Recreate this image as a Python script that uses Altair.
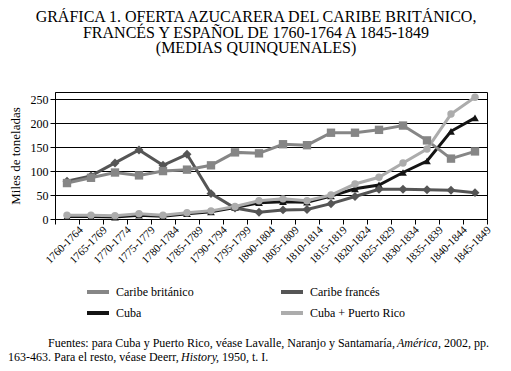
import altair as alt
import pandas as pd

periods = ["1760-1764", "1765-1769", "1770-1774", "1775-1779", "1780-1784", "1785-1789",
           "1790-1794", "1795-1799", "1800-1804", "1805-1809", "1810-1814", "1815-1819",
           "1820-1824", "1825-1829", "1830-1834", "1835-1839", "1840-1844", "1845-1849"]
britanico = [75, 86, 97, 91, 100, 103, 112, 139, 137, 156, 154, 180, 180, 186, 195, 164, 126, 141]
frances = [79, 90, 117, 144, 112, 135, 53, 23, 14, 19, 20, 32, 47, 62, 62, 61, 60, 55]
cuba = [5, 5, 4, 8, 6, 11, 15, 24, 34, 36, 35, 48, 63, 71, 97, 121, 183, 211]
cuba_pr = [8, 8, 7, 11, 8, 13, 17, 26, 38, 42, 38, 50, 73, 87, 117, 146, 219, 254]

series_names = ["Caribe británico", "Caribe francés", "Cuba", "Cuba + Puerto Rico"]
series_colors = ["#868686", "#555555", "#141414", "#acacac"]
series_shapes = ["square", "diamond", "triangle-up", "circle"]
series_sizes = [70, 80, 60, 55]

title_lines = ["GRÁFICA 1. OFERTA AZUCARERA DEL CARIBE BRITÁNICO,",
               "FRANCÉS Y ESPAÑOL DE 1760-1764 A 1845-1849",
               "(MEDIAS QUINQUENALES)"]
y_title = "Miles de toneladas"
y_ticks = [0, 50, 100, 150, 200, 250]

# draw order: Cuba, francés, británico, Cuba + PR
order = [("Cuba", cuba), ("Caribe francés", frances), ("Caribe británico", britanico),
         ("Cuba + Puerto Rico", cuba_pr)]
rows = []
for name, vals in order:
    for p, v in zip(periods, vals):
        rows.append({"periodo": p, "serie": name, "valor": v})
df = pd.DataFrame(rows)

FONT = "Liberation Serif"

x_enc = alt.X("periodo:N", sort=periods, bandPosition=0.5,
              scale=alt.Scale(type="band", paddingInner=0, paddingOuter=0),
              axis=alt.Axis(title=None, labelAngle=-45, labelAlign="right", labelBaseline="middle",
                            labelOffset=14, labelPadding=4, tickBand="extent", tickSize=5,
                            labelFont=FONT, labelFontSize=11, labelColor="black",
                            tickColor="black", domainColor="black", grid=False))
y_enc = alt.Y("valor:Q", scale=alt.Scale(domain=[0, 265], nice=False),
              axis=alt.Axis(values=y_ticks, title=y_title, titleFont=FONT, titleFontSize=13,
                            titleFontWeight="normal", titleColor="black", titlePadding=8,
                            labelFont=FONT, labelFontSize=12, labelColor="black", labelPadding=2,
                            tickSize=5, tickColor="black", domainColor="black",
                            grid=True, gridColor="black", gridOpacity=1, gridWidth=1))
color_enc = alt.Color("serie:N", scale=alt.Scale(domain=series_names, range=series_colors),
                      legend=alt.Legend(title=None, orient="none", legendX=30, legendY=187,
                                        direction="horizontal", columns=2, columnPadding=79,
                                        rowPadding=0, symbolType="stroke", symbolStrokeWidth=4,
                                        symbolSize=484, labelFont=FONT, labelFontSize=12,
                                        labelColor="black", labelOffset=5))

lines = alt.Chart(df).mark_line(strokeWidth=3).encode(x=x_enc, y=y_enc, color=color_enc)

point_layers = []
for name, col, shp, sz in zip(series_names, series_colors, series_shapes, series_sizes):
    point_layers.append(
        alt.Chart(df).transform_filter(alt.datum.serie == name)
        .mark_point(filled=True, opacity=1, size=sz, shape=shp, color=col, strokeWidth=0)
        .encode(x=x_enc, y=y_enc)
    )
# draw order for markers
point_layers = [point_layers[2], point_layers[1], point_layers[0], point_layers[3]]

foot1a = "Fuentes: para Cuba y Puerto Rico, véase Lavalle, Naranjo y Santamaría, "
foot1b = "América"
foot1c = ", 2002, pp."
foot2a = "163-463. Para el resto, véase Deerr, "
foot2b = "History"
foot2c = ", 1950, t. I."

def txt(s, x, y, style="normal"):
    return alt.Chart(pd.DataFrame({"t": [s]})).mark_text(
        align="left", baseline="alphabetic", font=FONT, fontSize=12, fontStyle=style, color="black"
    ).encode(text="t:N", x=alt.value(x), y=alt.value(y))

foot = [txt(foot1a, -7, 255), txt(foot1b, 342, 255, "italic"), txt(foot1c, 383, 255),
        txt(foot2a, -47, 269), txt(foot2b, 126, 269, "italic"), txt(foot2c, 161, 269)]

chart = alt.layer(lines, *point_layers, *foot).properties(
    width=432, height=127,
    title=alt.TitleParams(text=title_lines, font=FONT, fontSize=16, fontWeight="normal",
                          color="black", anchor="middle", lineHeight=15.5, offset=35, dx=-15),
    autosize=alt.AutoSizeParams(type="none"),
    padding={"left": 47, "top": 84, "right": 16, "bottom": 149},
).configure_view(stroke="black", strokeWidth=1)

chart.save("out.html", embed_options={"renderer": "svg", "actions": False})
